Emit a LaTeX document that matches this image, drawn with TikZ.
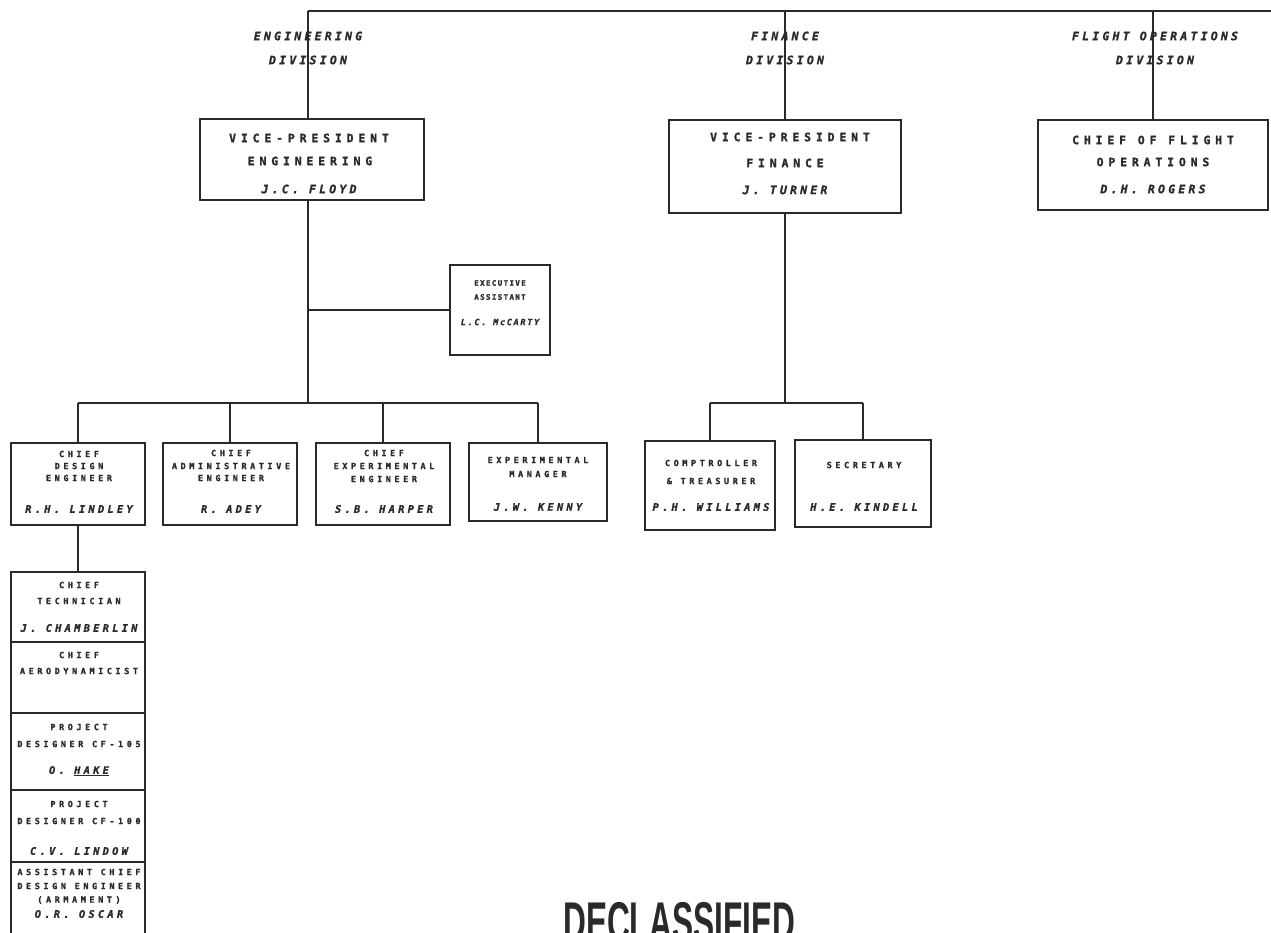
\documentclass[tikz,border=0pt]{standalone}
\usepackage{fontspec}
\usepackage{graphicx}
\setmainfont{Liberation Sans}
\newfontfamily\ttlbig[LetterSpace=42, FakeBold=1.2]{DejaVu Sans Mono Bold}
\newfontfamily\ttlsmall[LetterSpace=42, FakeBold=1.2]{DejaVu Sans Mono Bold}
\newfontfamily\ttlex[LetterSpace=18, FakeBold=1.2]{DejaVu Sans Mono Bold}
\newfontfamily\nmbig[LetterSpace=28, FakeBold=1.2]{DejaVu Sans Mono Bold Oblique}
\newfontfamily\nmsmall[LetterSpace=32, FakeBold=1.2]{DejaVu Sans Mono Bold Oblique}
\newfontfamily\nmex[LetterSpace=20, FakeBold=1.2]{DejaVu Sans Mono Bold Oblique}
\definecolor{ink}{HTML}{2A2A2A}
\newcommand\obox[5]{\node[boxst, minimum width={(#4-#2)*1pt}, minimum height={(#5-#3)*1pt}] (#1) at ({(#2+#4)/2},{(#3+#5)/2}) {};}
\tikzset{
  boxst/.style={draw=ink, line width=2pt, inner sep=0pt, rectangle},
  conn/.style={draw=ink, line width=2pt},
  tbig/.style={text=ink, inner sep=0pt, font={\ttlbig\fontsize{11.5}{13}\selectfont}},
  tsm/.style={text=ink, inner sep=0pt, font={\ttlsmall\fontsize{8.5}{10}\selectfont}},
  tex/.style={text=ink, inner sep=0pt, font={\ttlex\fontsize{7.5}{9}\selectfont}},
  nbig/.style={text=ink, inner sep=0pt, font={\nmbig\fontsize{11.5}{13}\selectfont}},
  nsm/.style={text=ink, inner sep=0pt, font={\nmsmall\fontsize{10.3}{11}\selectfont}},
  nex/.style={text=ink, inner sep=0pt, font={\nmex\fontsize{8.5}{10}\selectfont}},
  decl/.style={text=ink, inner sep=0pt, anchor=north west, font={\bfseries\fontsize{56}{56}\selectfont}}
}
\begin{document}
\begin{tikzpicture}[x=1pt,y=-1pt]
\useasboundingbox[fill=white] (0,0) rectangle (1271,932);
% boxes
\obox{vpEng}{200}{119}{424}{200}
\obox{vpFin}{669}{120}{901}{213}
\obox{cfo}{1038}{120}{1268}{210}
\obox{exec}{450}{265}{550}{355}
\obox{cde}{11}{443}{145}{525}
\obox{cae}{163}{443}{297}{525}
\obox{cee}{316}{443}{450}{525}
\obox{emg}{469}{443}{607}{521}
\obox{ctr}{645}{441}{775}{530}
\obox{sec}{795}{440}{931}{527}
\obox{colA}{11}{572}{145}{642}
\obox{colB}{11}{642}{145}{713}
\obox{colC}{11}{713}{145}{790}
\obox{colD}{11}{790}{145}{862}
\obox{colE}{11}{862}{145}{945}
% connectors
\coordinate (tL) at (308,11);
\coordinate (tR) at (1271,11);
\coordinate (ebL) at (78,403);
\coordinate (ebR) at (538,403);
\coordinate (exJ) at (308,310);
\coordinate (fbL) at (710,403);
\coordinate (fbR) at (863,403);
\draw[conn] (tL) -- (tR);
\draw[conn] (tL) -- (tL |- vpEng.north);
\draw[conn] (vpFin.north |- tL) -- (vpFin.north);
\draw[conn] (cfo.north |- tL) -- (cfo.north);
\draw[conn] (tL |- vpEng.south) -- (tL |- ebL);
\draw[conn] (exJ) -- (exJ -| exec.west);
\draw[conn] (ebL) -- (ebR);
\draw[conn] (ebL) -- (ebL |- cde.north);
\draw[conn] (cae.north |- ebL) -- (cae.north);
\draw[conn] (cee.north |- ebL) -- (cee.north);
\draw[conn] (ebR) -- (ebR |- emg.north);
\draw[conn] (vpFin.south) -- (vpFin.south |- fbL);
\draw[conn] (fbL) -- (fbR);
\draw[conn] (fbL) -- (fbL |- ctr.north);
\draw[conn] (fbR) -- (fbR |- sec.north);
\draw[conn] (cde.south) -- (colA.north);
% division labels
\node[nbig] (dE1) at (308,36) {ENGINEERING};
\node[nbig] (dE2) at (308,60) {DIVISION};
\node[nbig] (dF1) at (785,36) {FINANCE};
\node[nbig] (dF2) at (785,60) {DIVISION};
\node[nbig] (dO1) at (1155,36) {FLIGHT OPERATIONS};
\node[nbig] (dO2) at (1155,60) {DIVISION};
% top boxes text
\node[tbig] (vpE1) at (309,138) {VICE-PRESIDENT};
\node[tbig] (vpE2) at (310,161) {ENGINEERING};
\node[nbig] (vpE3) at (309,189) {J.C. FLOYD};
\node[tbig] (vpF1) at (790,137) {VICE-PRESIDENT};
\node[tbig] (vpF2) at (785,163) {FINANCE};
\node[nbig] (vpF3) at (785,190) {J. TURNER};
\node[tbig] (cfo1) at (1153,140) {CHIEF OF FLIGHT};
\node[tbig] (cfo2) at (1153,162) {OPERATIONS};
\node[nbig] (cfo3) at (1153,189) {D.H. ROGERS};
% executive assistant
\node[tex] (ex1) at (500,283) {EXECUTIVE};
\node[tex] (ex2) at (500,297) {ASSISTANT};
\node[nex] (ex3) at (500,322) {L.C. McCARTY};
% engineering row
\node[tsm] (cde1) at (79,454) {CHIEF};
\node[tsm] (cde2) at (79,466) {DESIGN};
\node[tsm] (cde3) at (79,478) {ENGINEER};
\node[nsm] (cde4) at (79,509) {R.H. LINDLEY};
\node[tsm] (cae1) at (231,453) {CHIEF};
\node[tsm] (cae2) at (231,466) {ADMINISTRATIVE};
\node[tsm] (cae3) at (231,478) {ENGINEER};
\node[nsm] (cae4) at (231,509) {R. ADEY};
\node[tsm] (cee1) at (384,453) {CHIEF};
\node[tsm] (cee2) at (384,466) {EXPERIMENTAL};
\node[tsm] (cee3) at (384,479) {ENGINEER};
\node[nsm] (cee4) at (384,509) {S.B. HARPER};
\node[tsm] (emg1) at (538,460) {EXPERIMENTAL};
\node[tsm] (emg2) at (538,474) {MANAGER};
\node[nsm] (emg3) at (538,507) {J.W. KENNY};
% finance row
\node[tsm] (ctr1) at (711,463) {COMPTROLLER};
\node[tsm] (ctr2) at (711,481) {\& TREASURER};
\node[nsm] (ctr3) at (711,507) {P.H. WILLIAMS};
\node[tsm] (sec1) at (864,465) {SECRETARY};
\node[nsm] (sec2) at (864,507) {H.E. KINDELL};
% column
\node[tsm] (cA1) at (79,585) {CHIEF};
\node[tsm] (cA2) at (79,601) {TECHNICIAN};
\node[nsm] (cA3) at (79,628) {J. CHAMBERLIN};
\node[tsm] (cB1) at (79,655) {CHIEF};
\node[tsm] (cB2) at (79,671) {AERODYNAMICIST};
\node[tsm] (cC1) at (79,727) {PROJECT};
\node[tsm] (cC2) at (79,744) {DESIGNER CF-105};
\node[nsm] (cC3) at (79,771) {O. \underline{HAKE}};
\node[tsm] (cD1) at (79,804) {PROJECT};
\node[tsm] (cD2) at (79,821) {DESIGNER CF-100};
\node[nsm] (cD3) at (79,851) {C.V. LINDOW};
\node[tsm] (cE1) at (79,872) {ASSISTANT CHIEF};
\node[tsm] (cE2) at (79,886) {DESIGN ENGINEER};
\node[tsm] (cE3) at (79,900) {(ARMAMENT)};
\node[nsm] (cE4) at (79,914) {O.R. OSCAR};
% stamp
\node[decl] (declass) at (563,902) {\scalebox{0.565}[1]{DECLASSIFIED}};
\end{tikzpicture}
\end{document}
